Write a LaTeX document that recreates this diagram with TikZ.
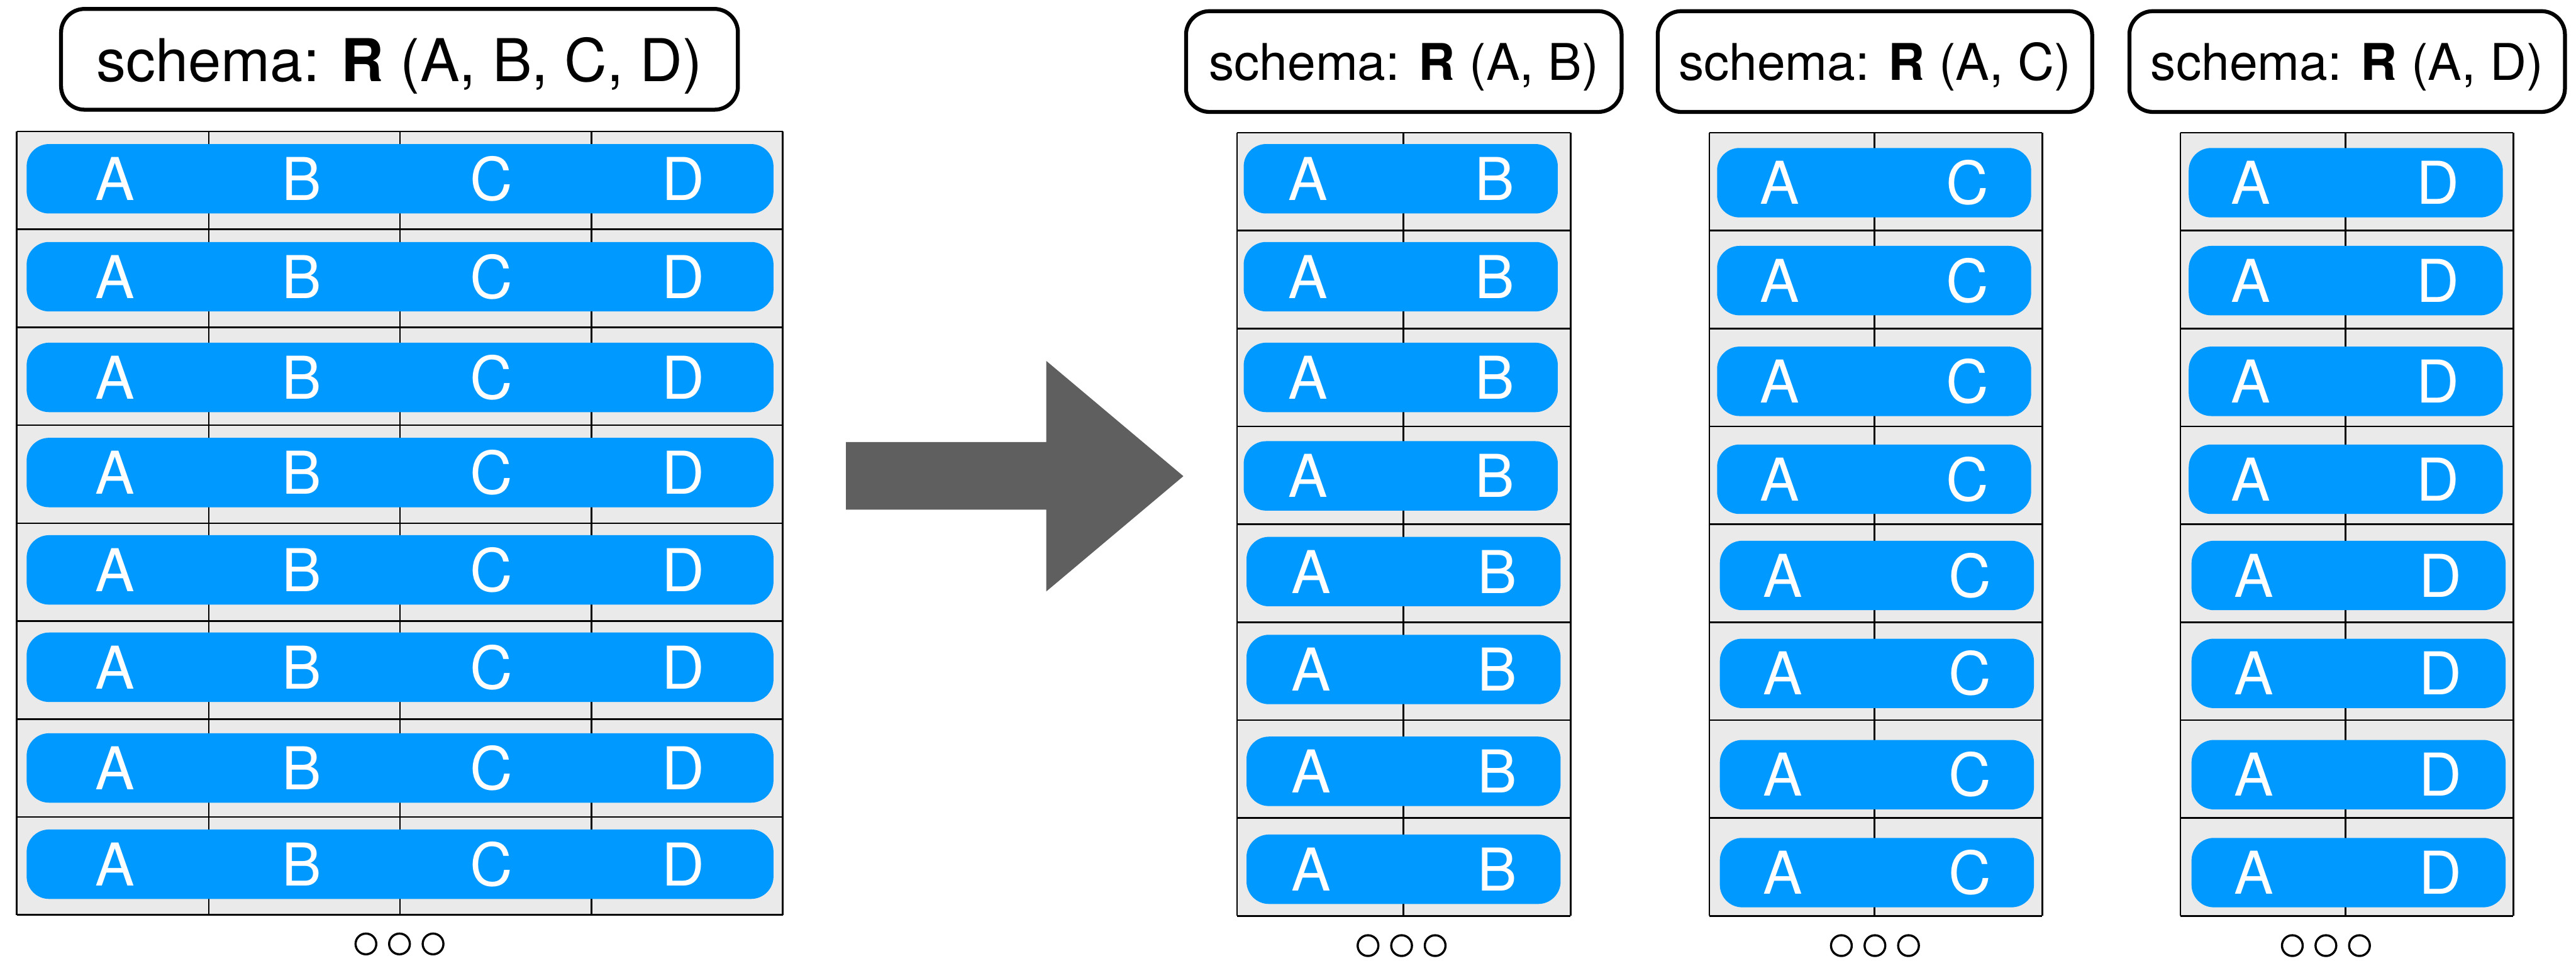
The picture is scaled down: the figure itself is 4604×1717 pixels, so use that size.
\documentclass[tikz,border=0pt]{standalone}
\usepackage{fontspec}
\setmainfont{TeX Gyre Heros}
\usepackage{tikz}
\usetikzlibrary{positioning}
\definecolor{tupleblue}{RGB}{0,153,255}
\definecolor{cellgray}{RGB}{234,234,234}
\definecolor{arrowgray}{RGB}{95,95,95}
\tikzset{
  schemabox/.style={draw,line width=2pt,rounded corners=0.42cm,minimum height=1.8cm,inner sep=0pt,text depth=0pt},
  bigfont/.style  ={font=\fontsize{30}{36}\selectfont},
  smallfont/.style={font=\fontsize{25.7}{31}\selectfont},
  tuple/.style    ={fill=tupleblue,rounded corners=0.4cm,minimum height=1.24cm,inner sep=0pt},
  attr/.style     ={text=white,inner sep=0pt,bigfont},
  gridline/.style ={line width=0.85pt},
  moredot/.style  ={circle,draw,line width=1.1pt,minimum size=0.37cm,inner sep=0pt},
}

\begin{document}
\begin{tikzpicture}[x=0.01cm,y=-0.01cm]
  \useasboundingbox (0,0) rectangle (4604,1717);

  % schema headers
  \node[schemabox,bigfont,minimum width=12.09cm]  (full) at (714,106)  {schema: \textbf{R} (A, B, C, D)};
  \node[schemabox,smallfont,minimum width=7.78cm] (ab)   at (2509,110) {schema: \textbf{R} (A, B)};
  \node[schemabox,smallfont,minimum width=7.76cm] (ac)   at (3351,110) {schema: \textbf{R} (A, C)};
  \node[schemabox,smallfont,minimum width=7.78cm] (ad)   at (4195,110) {schema: \textbf{R} (A, D)};

  % table grids
  \fill[cellgray] (30,235) rectangle (1399,1635);
  \foreach \y in {235,410,...,1635} \draw[gridline] (30,\y) -- (1399,\y);
  \foreach \x in {30,373,715,1057,1399} \draw[gridline] (\x,235) -- (\x,1635);
  \foreach \xl/\xm/\xr in {2211/2508/2807,3055/3350/3650,3897/4192/4492}{
    \fill[cellgray] (\xl,237) rectangle (\xr,1637);
    \foreach \y in {237,412,...,1637} \draw[gridline] (\xl,\y) -- (\xr,\y);
    \foreach \x in {\xl,\xm,\xr} \draw[gridline] (\x,237) -- (\x,1637);
  }

  % tuples of R(A,B,C,D)
  \foreach \i/\dy in {1/-3,2/-3,3/2,4/-3,5/-4,6/-5,7/0,8/-3}{
    \pgfmathsetmacro\yc{235+175*(\i-0.5)+\dy}
    \node[tuple,minimum width=13.34cm] (full\i) at (715,\yc) {};
    \foreach \n/\x in {A/206,B/539,C/878,D/1221}
      \node[attr] (full\i\n) at (\x,\yc) {\n};
  }

  % tuples of the three projections
  \foreach \i/\dyb/\dyc/\dx in {1/-5/2/0,2/-5/2/0,3/0/7/0,4/1/7/0,5/-3/4/5,6/-3/4/5,7/4/10/5,8/4/10/5}{
    \pgfmathsetmacro\yb{237+175*(\i-0.5)+\dyb}
    \pgfmathsetmacro\yc{237+175*(\i-0.5)+\dyc}
    \node[tuple,minimum width=5.61cm] (ab\i) at (2503.5+\dx,\yb) {};
    \node[attr] (ab\i A) at (2338+\dx,\yb) {A};
    \node[attr] (ab\i B) at (2671+\dx,\yb) {B};
    \node[tuple,minimum width=5.61cm] (ac\i) at (3349.5+\dx,\yc) {};
    \node[attr] (ac\i A) at (3181+\dx,\yc) {A};
    \node[attr] (ac\i C) at (3516+\dx,\yc) {C};
    \node[tuple,minimum width=5.61cm] (ad\i) at (4192.5+\dx,\yc) {};
    \node[attr] (ad\i A) at (4023+\dx,\yc) {A};
    \node[attr] (ad\i D) at (4357+\dx,\yc) {D};
  }

  % projection arrow
  \fill[arrowgray] (1512,790) -- (1870,790) -- (1870,645) -- (2115,851)
    -- (1870,1057) -- (1870,911) -- (1512,911) -- cycle;

  % more rows follow
  \foreach \t/\xc/\yc in {full/714/1687,ab/2505/1690,ac/3351/1690,ad/4157/1690}
    \foreach \k in {-1,0,1}
      \node[moredot] (\t dot\k) at (\xc+60*\k,\yc) {};
\end{tikzpicture}
\end{document}
